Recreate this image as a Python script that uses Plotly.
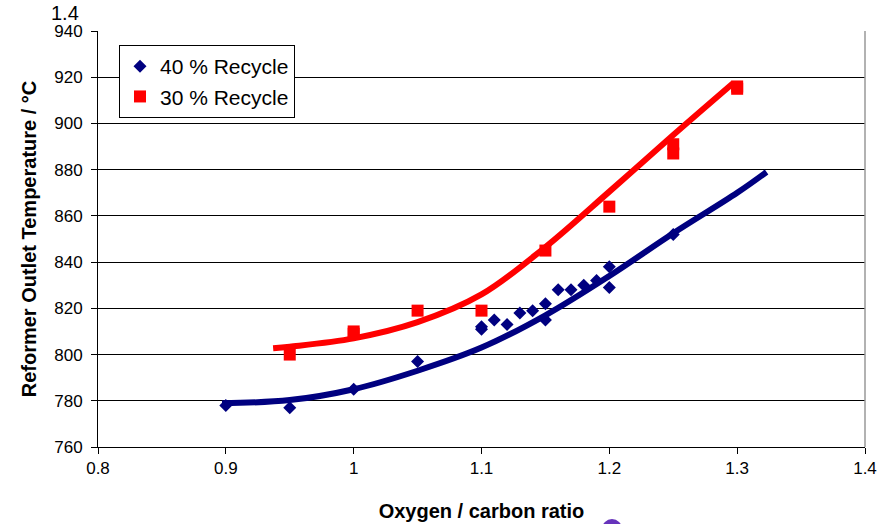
import plotly.graph_objects as go

# 40 % Recycle data
x40 = [0.90, 0.95, 1.00, 1.05, 1.10, 1.10, 1.11, 1.12, 1.13, 1.14, 1.15, 1.15,
       1.16, 1.17, 1.18, 1.19, 1.20, 1.20, 1.25]
y40 = [778, 777, 785, 797, 811, 812, 815, 813, 818, 819, 822, 815,
       828, 828, 830, 832, 838, 829, 852]
# 30 % Recycle data
x30 = [0.95, 1.00, 1.00, 1.05, 1.10, 1.15, 1.20, 1.25, 1.25, 1.30, 1.30]
y30 = [800, 809, 810, 819, 819, 845, 864, 887, 891, 915, 916]

# trendlines
trend40_x = [0.897, 0.95, 1.00, 1.05, 1.10, 1.15, 1.20, 1.25, 1.30, 1.323]
trend40_y = [778.9, 780.3, 785.0, 793.0, 803.0, 817.0, 834.0, 852.5, 870.0, 879.0]
trend30_x = [0.937, 0.95, 1.00, 1.05, 1.10, 1.15, 1.20, 1.25, 1.297]
trend30_y = [802.7, 803.4, 807.0, 814.0, 826.0, 846.5, 870.5, 895.0, 917.5]

xticks = [0.8, 0.9, 1.0, 1.1, 1.2, 1.3, 1.4]
xticklabels = ["0.8", "0.9", "1", "1.1", "1.2", "1.3", "1.4"]
yticks = [760, 780, 800, 820, 840, 860, 880, 900, 920, 940]

NAVY = "#000080"
RED = "#FF0000"

fig = go.Figure()
fig.add_trace(go.Scatter(x=x40, y=y40, mode="markers", name="40 % Recycle",
                         marker=dict(symbol="diamond", size=10, color=NAVY)))
fig.add_trace(go.Scatter(x=x30, y=y30, mode="markers", name="30 % Recycle",
                         marker=dict(symbol="square", size=12, color=RED)))
fig.add_trace(go.Scatter(x=trend40_x, y=trend40_y, mode="lines",
                         line=dict(color=NAVY, width=6, shape="spline", smoothing=1),
                         showlegend=False, hoverinfo="skip"))
fig.add_trace(go.Scatter(x=trend30_x, y=trend30_y, mode="lines",
                         line=dict(color=RED, width=6, shape="spline", smoothing=1),
                         showlegend=False, hoverinfo="skip"))

FONT = "Liberation Sans, Arial, sans-serif"

fig.update_layout(
    width=887, height=524,
    margin=dict(l=98, r=22, t=31, b=77),
    paper_bgcolor="white", plot_bgcolor="white",
    font=dict(family=FONT, color="black", size=17),
    showlegend=True,
    legend=dict(x=(119 - 98) / 767, y=(447 - 45) / 416, xanchor="left", yanchor="top",
                bordercolor="black", borderwidth=1, bgcolor="white",
                font=dict(size=21, family=FONT), itemwidth=30,
                tracegroupgap=0),
    xaxis=dict(range=[0.8, 1.4], tickvals=xticks, ticktext=xticklabels,
               showgrid=False, zeroline=False, showline=True, automargin=False,
               linecolor="black", linewidth=1, ticks="outside", ticklen=6,
               tickcolor="black", tickfont=dict(size=17),
               title=dict(text="<b>Oxygen / carbon ratio</b>",
                          font=dict(size=20), standoff=26)),
    yaxis=dict(range=[760, 940], tickvals=yticks, showgrid=True,
               gridcolor="black", gridwidth=1, zeroline=False, automargin=False,
               showline=True, linecolor="black", linewidth=1,
               ticks="outside", ticklen=6, tickcolor="black",
               tickfont=dict(size=17), ticklabelstandoff=5,
               title=dict(text="<b>Reformer Outlet Temperature / °C</b>",
                          font=dict(size=20), standoff=12)),
    shapes=[
        dict(type="line", xref="paper", yref="paper", x0=1, x1=1, y0=0, y1=1,
             line=dict(color="#999999", width=1.5)),
        dict(type="circle", xref="paper", yref="paper",
             x0=(602 - 98) / 767, x1=(622 - 98) / 767,
             y0=-(539 - 447) / 416, y1=-(519 - 447) / 416,
             fillcolor="#6633bb", line=dict(width=0)),
    ],
    annotations=[
        dict(text="1.4", xref="paper", yref="paper",
             x=(81 - 98) / 767, y=(447 - 13) / 416, xanchor="right",
             yanchor="middle", showarrow=False, font=dict(size=20)),
    ],
)

fig.write_html("out.html")
